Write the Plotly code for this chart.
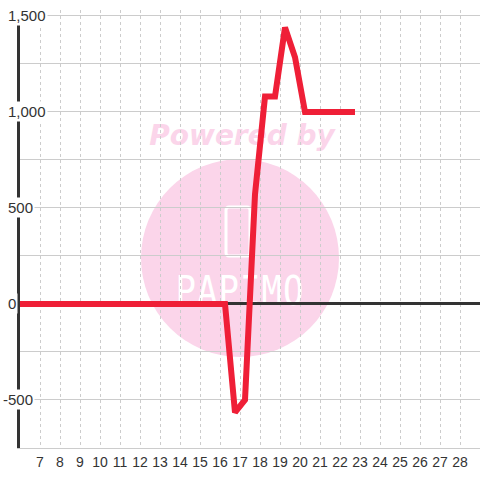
import base64
import plotly.graph_objects as go

# ---- data ----
hours = [5.75, 6.25, 6.75, 7.25, 7.75, 8.25, 8.75, 9.25, 9.75, 10.25, 10.75,
         11.25, 11.75, 12.25, 12.75, 13.25, 13.75, 14.25, 14.75, 15.25, 15.75,
         16.25, 16.75, 17.25, 17.75, 18.25, 18.75, 19.25, 19.75, 20.25, 20.75,
         21.25, 21.75, 22.25, 22.75]
values = [0, 0, 0, 0, 0, 0, 0, 0, 0, 0, 0,
          0, 0, 0, 0, 0, 0, 0, 0, 0, 0,
          0, -565, -500, 570, 1080, 1080, 1440, 1285, 1000, 1000,
          1000, 1000, 1000, 1000]
x_tick_vals = [7, 8, 9, 10, 11, 12, 13, 14, 15, 16, 17, 18, 19, 20, 21, 22,
               23, 24, 25, 26, 27, 28]
x_tick_text = ["7", "8", "9", "10", "11", "12", "13", "14", "15", "16", "17",
               "18", "19", "20", "21", "22", "23", "24", "25", "26", "27", "28"]
y_label_vals = [-500, 0, 500, 1000, 1500]
y_label_text = ["-500", "0", "500", "1,000", "1,500"]
y_grid_step = 250

X_RANGE = [6, 29]
Y_RANGE = [-750, 1531]

W, H = 480, 480
ML, MR, MT, MB = 20, 0, 10, 32
PW, PH = W - ML - MR, H - MT - MB

RED = "#ef1f37"
DARK = "#333333"
GRID = "#cccccc"
PINK = "#fbd5ea"
FONT = "Liberation Sans, Arial, sans-serif"

# ---- watermark (decorative, drawn below grid) ----
svg = f'''<svg xmlns="http://www.w3.org/2000/svg" width="{W}" height="{H}" viewBox="0 0 {W} {H}">
<circle cx="240" cy="258" r="99" fill="{PINK}"/>
<text x="242" y="145" text-anchor="middle" font-family="DejaVu Sans" font-weight="bold" font-style="italic" font-size="28" fill="{PINK}">Powered by</text>
<rect x="226" y="207" width="24" height="49" rx="3" fill="none" stroke="white" stroke-width="3"/>
<g transform="translate(240,305) scale(1,1.2)">
<text x="0" y="0" text-anchor="middle" font-family="DejaVu Sans Mono" font-size="34" fill="white" letter-spacing="1">PAPIMO</text>
</g>
</svg>'''
svg_uri = "data:image/svg+xml;base64," + base64.b64encode(svg.encode()).decode()

fig = go.Figure()
fig.add_trace(go.Scatter(
    x=hours, y=values, mode="lines",
    line=dict(color=RED, width=6),
    hoverinfo="x+y", showlegend=False,
))

annotations = []
for v, t in zip(y_label_vals, y_label_text):
    px = 1 if t.startswith("-") else 6
    annotations.append(dict(
        x=(px - ML) / PW, xref="paper", xanchor="left",
        y=v, yref="y", yanchor="middle",
        text=t, showarrow=False, bgcolor="white", borderpad=1,
        font=dict(family=FONT, size=15, color=DARK),
    ))

fig.update_layout(
    width=W, height=H,
    margin=dict(l=ML, r=MR, t=MT, b=MB, pad=0),
    paper_bgcolor="white", plot_bgcolor="rgba(0,0,0,0)",
    font=dict(family=FONT, color=DARK),
    annotations=annotations,
    images=[dict(
        source=svg_uri, xref="paper", yref="paper",
        x=-ML / PW, y=1 + MT / PH, sizex=W / PW, sizey=H / PH,
        xanchor="left", yanchor="top", sizing="stretch", layer="below",
    )],
    xaxis=dict(
        range=X_RANGE, tickvals=x_tick_vals, ticktext=x_tick_text,
        showgrid=True, gridcolor=GRID, gridwidth=1, griddash="3px,3px",
        zeroline=False, showline=True, linecolor=GRID, linewidth=1,
        ticks="outside", ticklen=1, tickcolor="rgba(0,0,0,0)",
        tickfont=dict(family=FONT, size=14, color=DARK),
    ),
    yaxis=dict(
        range=Y_RANGE, dtick=y_grid_step, tick0=0,
        showticklabels=False, ticks="",
        showgrid=True, gridcolor=GRID, gridwidth=1,
        zeroline=True, zerolinecolor=DARK, zerolinewidth=3,
        showline=True, linecolor=DARK, linewidth=3,
    ),
)

fig.write_html(
    "out.html",
    config={"displayModeBar": False},
    post_script="document.body.style.margin='0';document.body.style.overflow='hidden';",
)
